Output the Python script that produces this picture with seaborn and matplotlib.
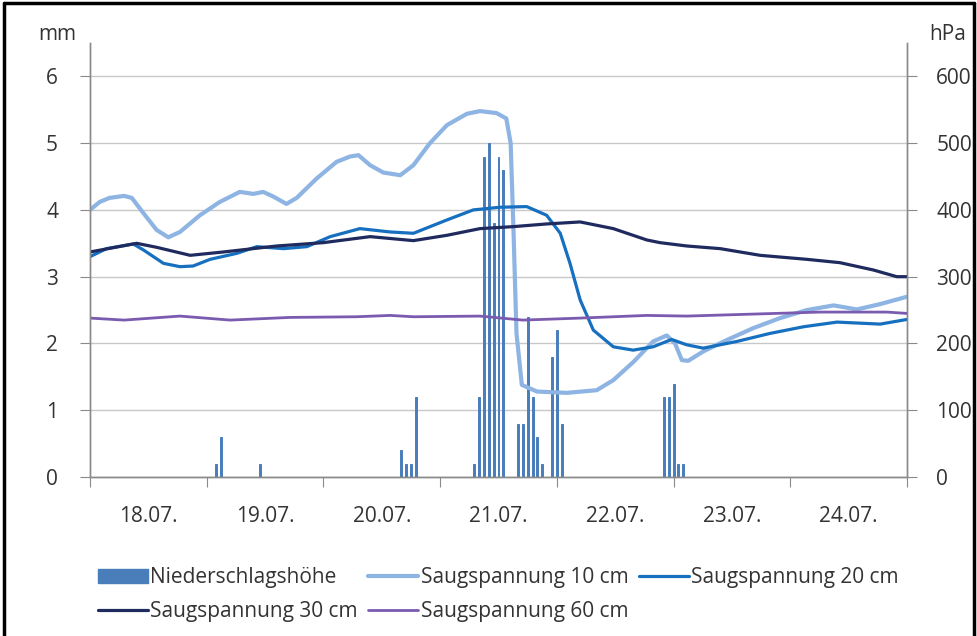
import matplotlib
matplotlib.use("Agg")
import matplotlib.pyplot as plt
from matplotlib.lines import Line2D
from matplotlib.patches import Patch
import seaborn as sns

# time axis in hours since 18.07. 00:00
days = ['18.07.', '19.07.', '20.07.', '21.07.', '22.07.', '23.07.', '24.07.']

# precipitation (mm), hourly bars
rain_hour = [26, 27, 35, 64, 65, 66, 67, 79, 80, 81, 82, 83, 84, 85,
             88, 89, 90, 91, 92, 93, 95, 96, 97, 118, 119, 120, 121, 122]
rain_mm = [0.2, 0.6, 0.2, 0.4, 0.2, 0.2, 1.2, 0.2, 1.2, 4.8, 5.0, 3.8, 4.8, 4.6,
           0.8, 0.8, 2.4, 1.2, 0.6, 0.2, 1.8, 2.2, 0.8, 1.2, 1.2, 1.4, 0.2, 0.2]

# suction (hPa)
s10_hour = [0, 2, 4, 7, 8.6, 11, 13.7, 16.1, 18.5, 22.6, 26.7, 30.8, 33.6, 35.6, 37.7,
            40.4, 42.5, 46.6, 50.7, 53.5, 55.2, 57.6, 60.3, 63.8, 66.5, 69.9, 73.4,
            77.5, 80.2, 83.6, 85.6, 86.5, 87.1, 87.7, 88.8, 91.9, 98, 104.2, 107.6,
            111.7, 115.8, 118.6, 120.3, 121.7, 123, 126.1, 130.9, 136.4, 141.9,
            147.4, 152.9, 157.7, 162.5, 168]
s10_hpa = [400, 412, 418, 421, 418, 395, 370, 359, 367, 392, 412, 427, 424, 427, 420,
           409, 418, 447, 472, 480, 482, 467, 456, 452, 467, 500, 527,
           544, 548, 545, 537, 500, 365, 215, 138, 128, 126, 130, 145,
           172, 203, 212, 200, 175, 174, 188, 205, 223, 238,
           250, 257, 251, 259, 270]

s20_hour = [0, 3.4, 8.9, 11, 15.1, 18.5, 21.2, 24.7, 30.2, 34.3, 39.8, 44.6, 49.4,
            55.5, 61.7, 66.5, 73.4, 78.8, 84.3, 89.8, 93.9, 96.7, 98.7, 100.8, 103.5,
            107.6, 111.7, 115.8, 119.6, 122.7, 126.1, 133, 139.8, 146.7, 153.6, 162.5, 168]
s20_hpa = [330, 342, 349, 340, 320, 315, 316, 326, 335, 345, 342, 345, 360,
           372, 367, 365, 385, 400, 404, 405, 392, 365, 320, 265, 220,
           195, 190, 195, 206, 198, 193, 203, 215, 225, 232, 229, 236]

s30_hour = [0, 9.6, 13.7, 20.6, 27.4, 38.4, 48, 57.6, 66.5, 73.4, 80.2, 87.1, 93.9,
            100.8, 107.6, 114.5, 117.2, 122.7, 129.6, 137.8, 147.4, 154.2, 161.1, 165.9, 168]
s30_hpa = [337, 350, 344, 332, 337, 346, 351, 360, 354, 362, 372, 375, 379,
           382, 372, 355, 351, 346, 342, 332, 326, 321, 310, 300, 300]

s60_hour = [0, 7, 18.5, 28.8, 41.1, 54.8, 61.7, 66.5, 80.2, 89, 100.8, 114.5, 122.7,
            136.4, 150.1, 163.9, 168]
s60_hpa = [238, 235, 241, 235, 239, 240, 242, 240, 241, 235, 238, 242, 241,
           244, 247, 247, 245]

c_bar = '#4a7ebb'
c10 = '#8db4e2'
c20 = '#1670bf'
c30 = '#1f2a5e'
c60 = '#7a5bb0'
grey = '#8a8a8a'
txt = '#333333'
fs = 15

sns.set_style('white')
plt.rcParams['font.family'] = ['Open Sans', 'DejaVu Sans']

fig = plt.figure(figsize=(9.77, 6.36), dpi=100)
ax = fig.add_axes([90/977, 0.25, (907-90)/977, (477-43)/636])
ax2 = ax.twinx()

ax.bar(rain_hour, rain_mm, width=0.4, color=c_bar, edgecolor=c_bar, linewidth=0.7, zorder=2)
ax.set_xlim(0, 168)
ax.set_ylim(0, 6.5)
ax.set_yticks(range(0, 7))
ax.yaxis.grid(True, color='#c8c8c8', lw=1)
ax.set_axisbelow(True)

sns.lineplot(x=s10_hour, y=s10_hpa, ax=ax2, color=c10, lw=3)
sns.lineplot(x=s20_hour, y=s20_hpa, ax=ax2, color=c20, lw=2.3)
sns.lineplot(x=s30_hour, y=s30_hpa, ax=ax2, color=c30, lw=2.3)
sns.lineplot(x=s60_hour, y=s60_hpa, ax=ax2, color=c60, lw=2)
ax2.set_ylim(0, 650)
ax2.set_yticks(range(0, 700, 100))
ax2.set_xlim(0, 168)

# x axis: day boundaries as ticks, day names centred between
ax.set_xticks(range(0, 169, 24))
ax.set_xticklabels([])
ax.set_xticks([12 + 24*i for i in range(7)], minor=True)
ax.set_xticklabels(days, minor=True)
ax.tick_params(axis='x', which='major', length=7, color=grey, direction='out', bottom=True)
ax.tick_params(axis='x', which='minor', length=0, pad=21, labelsize=fs, labelcolor=txt)
ax.tick_params(axis='y', length=7, color=grey, direction='out', left=True, pad=16,
               labelsize=fs, labelcolor=txt)
ax2.tick_params(axis='y', length=7, color=grey, direction='out', right=True, pad=14,
                labelsize=fs, labelcolor=txt)
ax2.set_xlabel('')
ax2.set_ylabel('')

for a in (ax, ax2):
    a.spines['top'].set_visible(False)
    for s in ['left', 'right', 'bottom']:
        a.spines[s].set_color(grey)
        a.spines[s].set_linewidth(1)

fig.text(38/977, 1 - 35/636, 'mm', fontsize=fs, color=txt, va='center')
fig.text(929/977, 1 - 35/636, 'hPa', fontsize=fs, color=txt, va='center')

handles = [Patch(color=c_bar), Line2D([], [], color=c30, lw=2.3),
           Line2D([], [], color=c10, lw=3), Line2D([], [], color=c60, lw=2),
           Line2D([], [], color=c20, lw=2.3)]
labels = ['Niederschlagshöhe', 'Saugspannung 30 cm', 'Saugspannung 10 cm',
          'Saugspannung 60 cm', 'Saugspannung 20 cm']
fig.legend(handles, labels, ncol=3, loc='upper left', bbox_to_anchor=(88/977, 1 - 557/636),
           frameon=False, fontsize=fs, handlelength=2.4, handletextpad=0.1,
           columnspacing=0.5, labelspacing=0.6, borderpad=0, labelcolor=txt)

# outer frame of the figure
for xs, ys in [([0.004, 0.004], [0, 0.996]), ([0.004, 0.997], [0.996, 0.996]),
               ([0.997, 0.997], [0, 0.996])]:
    fig.add_artist(Line2D(xs, ys, color='black', lw=2.5, transform=fig.transFigure))

fig.savefig('out.png', dpi=100)
